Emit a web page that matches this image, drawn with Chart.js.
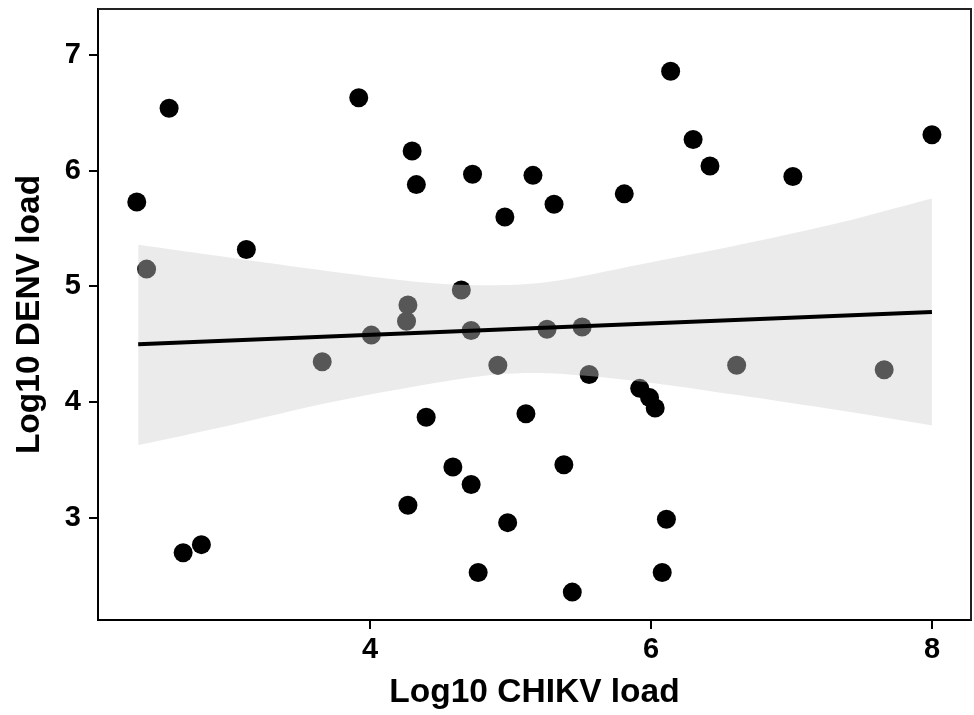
<!DOCTYPE html>
<html lang="en">
<head>
    <meta charset="UTF-8">
    <title>CHIKV vs DENV load</title>
    <style>
        * { margin: 0; padding: 0; box-sizing: border-box; }
        body { background: #fff; }
        .wrap { width: 974px; height: 715px; }
    </style>
    <script src="https://cdn.jsdelivr.net/npm/chart.js"></script>
</head>
<body>
    <div class="wrap"><canvas id="chart" width="974" height="715"></canvas></div>
    <script>
        // observed samples
        const chikv = [2.34, 2.41, 2.57, 2.67, 2.80, 3.12, 3.66, 3.92, 4.01, 4.26, 4.27, 4.30, 4.33, 4.27, 4.40,
                       4.59, 4.65, 4.72, 4.72, 4.73, 4.77, 4.91, 4.96, 4.98, 5.11, 5.16, 5.26, 5.31, 5.38, 5.44,
                       5.51, 5.56, 5.81, 5.92, 5.99, 6.03, 6.11, 6.08, 6.14, 6.30, 6.42, 6.61, 7.01, 7.66, 8.00];
        const denv  = [5.73, 5.15, 6.54, 2.70, 2.77, 5.32, 4.35, 6.63, 4.58, 4.70, 4.84, 6.17, 5.88, 3.11, 3.87,
                       3.44, 4.97, 4.62, 3.29, 5.97, 2.53, 4.32, 5.60, 2.96, 3.90, 5.96, 4.63, 5.71, 3.46, 2.36,
                       4.65, 4.24, 5.80, 4.12, 4.04, 3.95, 2.99, 2.53, 6.86, 6.27, 6.04, 4.32, 5.95, 4.28, 6.31];

        // linear fit and its confidence band
        const fitX = [2.35, 8.00];
        const fitY = [4.50, 4.78];
        const bandX = [2.35, 3.00, 3.72, 4.43, 4.90, 5.28, 5.92, 6.63, 7.34, 8.00];
        const bandUpper = [5.36, 5.25, 5.13, 5.03, 5.01, 5.04, 5.19, 5.36, 5.55, 5.76];
        const bandLower = [3.63, 3.80, 4.00, 4.16, 4.24, 4.25, 4.18, 4.06, 3.93, 3.80];

        const xTicks = [4, 6, 8];
        const yTicks = [3, 4, 5, 6, 7];

        const pts = (xs, ys) => xs.map((x, i) => ({ x: x, y: ys[i] }));
        const font = 'Liberation Sans, Arial, sans-serif';

        const boxPlugin = {
            id: 'box',
            afterDraw(chart) {
                const { ctx, chartArea: a } = chart;
                ctx.save();
                ctx.strokeStyle = '#222';
                ctx.lineWidth = 2;
                ctx.beginPath();
                ctx.moveTo(a.left, a.top);
                ctx.lineTo(a.right, a.top);
                ctx.lineTo(a.right, a.bottom);
                ctx.stroke();
                ctx.restore();
            }
        };

        const noPad = s => { s.paddingTop = 0; s.paddingBottom = 0; s.paddingLeft = 0; s.paddingRight = 0; };

        new Chart(document.getElementById('chart'), {
            type: 'scatter',
            data: {
                datasets: [
                    {
                        data: pts(chikv, denv),
                        backgroundColor: '#000',
                        pointRadius: 9.5,
                        pointBorderWidth: 0,
                        order: 3
                    },
                    {
                        data: pts(bandX, bandUpper),
                        showLine: true,
                        pointRadius: 0,
                        borderWidth: 0,
                        borderColor: 'rgba(0,0,0,0)',
                        backgroundColor: 'rgba(208,208,208,0.42)',
                        tension: 0.3,
                        fill: '+1',
                        order: 2
                    },
                    {
                        data: pts(bandX, bandLower),
                        showLine: true,
                        pointRadius: 0,
                        borderWidth: 0,
                        borderColor: 'rgba(0,0,0,0)',
                        tension: 0.3,
                        fill: false,
                        order: 2
                    },
                    {
                        data: pts(fitX, fitY),
                        showLine: true,
                        pointRadius: 0,
                        borderColor: '#000',
                        borderWidth: 4,
                        fill: false,
                        order: 0
                    }
                ]
            },
            options: {
                responsive: false,
                animation: false,
                events: [],
                layout: { autoPadding: false, padding: { top: 9, right: 3, left: 0, bottom: 0 } },
                plugins: { legend: { display: false }, tooltip: { enabled: false } },
                scales: {
                    x: {
                        type: 'linear',
                        min: 2.064,
                        max: 8.278,
                        afterBuildTicks: s => { s.ticks = xTicks.map(v => ({ value: v })); },
                        afterFit: s => { s.height = 95; noPad(s); },
                        grid: { drawOnChartArea: false, drawTicks: true, tickLength: 9, color: '#000', lineWidth: 2 },
                        border: { display: true, color: '#000', width: 2 },
                        ticks: { color: '#000', padding: 4, font: { family: font, size: 29, weight: 'bold' } },
                        title: {
                            display: true,
                            text: 'Log10 CHIKV load',
                            color: '#000',
                            padding: { top: 0, bottom: 2 },
                            font: { family: font, size: 33.5, weight: 'bold' }
                        }
                    },
                    y: {
                        type: 'linear',
                        min: 2.119,
                        max: 7.397,
                        afterBuildTicks: s => { s.ticks = yTicks.map(v => ({ value: v })); },
                        afterFit: s => { s.width = 98; noPad(s); },
                        grid: { drawOnChartArea: false, drawTicks: true, tickLength: 9, color: '#000', lineWidth: 2 },
                        border: { display: true, color: '#000', width: 2 },
                        ticks: { color: '#000', padding: 8, font: { family: font, size: 29, weight: 'bold' } },
                        title: {
                            display: true,
                            text: 'Log10 DENV load',
                            color: '#000',
                            padding: { top: 10, bottom: 0 },
                            font: { family: font, size: 33.5, weight: 'bold' }
                        }
                    }
                }
            },
            plugins: [boxPlugin]
        });
    </script>
</body>
</html>
